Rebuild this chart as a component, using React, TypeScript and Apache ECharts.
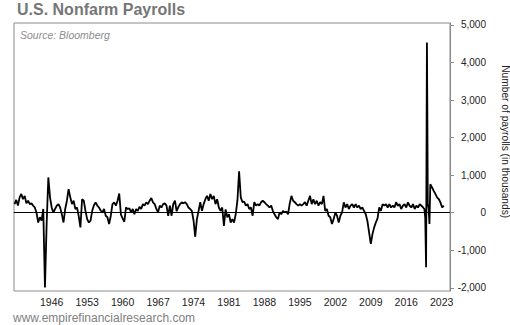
import React, { useEffect, useRef } from "react";
import * as echarts from "echarts";

const start1 = "1938-09";
const changes1938to1958 = [
  230, 340, 190, 410, 500, 360, 450, 250, 320, 230, 250, 190,
  140, 0, -260, -120, -210, 100, -1990, -300, 940, 410, 140, 0,
  100, 190, 230, 140, -40, -260, 100, 320, 630, 410, 230, 320,
  100, 140, -90, -390, 360, 320, 50, -170, -260, -210, 50, 200,
  275, 190, 140, 60, 10, 100, -80, -120, -300, -80, 230, 275,
];
const start2 = "1958-09";
const changes1958to1978 = [
  190, 320, 510, -50, -150, -240, 140, 100, 120, 10, 100, -40,
  100, 50, 160, 100, 230, 190, 275, 230, 320, 390, 275, 230,
  100, 10, 190, 140, 230, 250, 190, -80, 190, -80, 230, 320,
  40, 150, 230, 275, 250, 280, 230, 140, 100, 50, -200, -640,
  -170, 50, 280, 50, 230, 360, 450, 320, 500, 360, 450, 230,
];
const start3 = "1978-09";
const changes1978to1998 = [
  360, 140, 50, 140, -350, 90, -120, -40, -260, -170, -260, -40,
  320, 1100, 410, 280, 300, 190, 230, 100, 140, -80, 280, 190,
  230, 190, 280, 320, 280, 230, 190, 140, 190, 50, -40, -120,
  -170, 10, -40, 50, 10, 30, -40, 250, 450, 320, 280, 230,
  190, 230, 190, 230, 280, 190, 320, 450, 230, 360, 230, 320,
];
const start4 = "1998-09";
const changes1998to2019 = [
  190, 280, 230, 450, 50, 100, -80, -120, -300, -170, 10, -80,
  -260, -80, 10, 275, 140, 230, 100, 190, 230, 140, 230, 140,
  190, 100, 140, 50, -40, -220, -520, -830, -570, -390, -260, -150,
  140, 50, 230, 190, 230, 140, 230, 140, 190, 140, 280, 186,
  230, 100, 186, 230, 140, 275, 186, 140, 230, 100, 186, 140,
  230, 186, 140,
];
const recentMonths = [
  "2019-08", "2019-10", "2019-12", "2020-02", "2020-03", "2020-04", "2020-06", "2020-08",
  "2020-10", "2021-02", "2021-06", "2021-10", "2022-02", "2022-06", "2022-10", "2023-02", "2023-06",
];
const recentChanges = [100, -130, -1450, 4530, 2700, 250, 100, -300, 760, 675, 585, 500, 410, 365, 275, 140, 186];

const yearLabels = [1946, 1953, 1960, 1967, 1974, 1981, 1988, 1995, 2002, 2009, 2016, 2023];
const valueTicks = [-2000, -1000, 0, 1000, 2000, 3000, 4000, 5000];

const FONT = '"Liberation Sans", Arial, sans-serif';

function monthToYear(m: string): number {
  const [y, mo] = m.split("-").map(Number);
  return y + (mo - 1) / 12;
}
function addMonths(m: string, n: number): string {
  const [y, mo] = m.split("-").map(Number);
  const t = y * 12 + (mo - 1) + n;
  const ny = Math.floor(t / 12);
  const nm = (t % 12) + 1;
  return `${ny}-${String(nm).padStart(2, "0")}`;
}

function buildData(): [number, number][] {
  const out: [number, number][] = [];
  const eras: [string, number[]][] = [
    [start1, changes1938to1958],
    [start2, changes1958to1978],
    [start3, changes1978to1998],
    [start4, changes1998to2019],
  ];
  eras.forEach(([s, vals]) => {
    vals.forEach((v, i) => out.push([monthToYear(addMonths(s, i * 4)), v]));
  });
  recentMonths.forEach((m, i) => out.push([monthToYear(m), recentChanges[i]]));
  return out;
}

export default function App() {
  const ref = useRef<HTMLDivElement>(null);
  useEffect(() => {
    document.body.style.margin = "0";
    if (!ref.current) return;
    const chart = echarts.init(ref.current, undefined, { renderer: "svg" });
    chart.setOption({
      animation: false,
      backgroundColor: "#ffffff",
      grid: {
        left: 14,
        top: 23,
        width: 436,
        height: 268,
        show: true,
        borderColor: "#8a8a8a",
        borderWidth: 1,
      },
      xAxis: {
        type: "value",
        min: 1938.556,
        max: 2024.64,
        axisLine: { show: true, lineStyle: { color: "#8a8a8a", width: 1 } },
        axisTick: { show: false },
        splitLine: { show: false },
        axisLabel: {
          customValues: yearLabels,
          formatter: (v: number) => String(Math.round(v)),
          fontFamily: FONT,
          fontSize: 10.5,
          color: "#222222",
          margin: 5,
        },
      },
      yAxis: {
        type: "value",
        position: "right",
        min: -2083,
        max: 5050,
        axisLine: { show: true, lineStyle: { color: "#8a8a8a", width: 1 } },
        axisTick: { show: true, length: 4, customValues: valueTicks, lineStyle: { color: "#8a8a8a" } },
        splitLine: { show: false },
        axisLabel: {
          customValues: valueTicks,
          formatter: (v: number) => Math.round(v).toLocaleString("en-US"),
          fontFamily: FONT,
          fontSize: 10,
          color: "#222222",
          margin: 36,
          align: "right",
        },
      },
      graphic: [
        {
          type: "text",
          x: 17,
          y: 9.4,
          style: {
            text: "U.S. Nonfarm Payrolls",
            fontFamily: FONT,
            fontSize: 16,
            fontWeight: "bold",
            fill: "#767676",
            align: "left",
            verticalAlign: "middle",
          },
        },
        {
          type: "text",
          x: 20,
          y: 35,
          style: {
            text: "Source: Bloomberg",
            fontFamily: FONT,
            fontSize: 10.5,
            fontStyle: "italic",
            fill: "#8c8c8c",
            align: "left",
            verticalAlign: "middle",
          },
        },
        {
          type: "text",
          x: 13,
          y: 317.5,
          style: {
            text: "www.empirefinancialresearch.com",
            fontFamily: FONT,
            fontSize: 12,
            fill: "#808080",
            align: "left",
            verticalAlign: "middle",
          },
        },
        {
          type: "text",
          x: 505.5,
          y: 141.7,
          rotation: -Math.PI / 2,
          style: {
            text: "Number of payrolls (in thousands)",
            fontFamily: FONT,
            fontSize: 10.2,
            fill: "#222222",
            align: "center",
            verticalAlign: "middle",
          },
        },
      ],
      series: [
        {
          type: "line",
          data: buildData(),
          showSymbol: false,
          symbol: "none",
          lineStyle: { color: "#000000", width: 1.8 },
          markLine: {
            silent: true,
            symbol: "none",
            label: { show: false },
            lineStyle: { color: "#000000", width: 1.2, type: "solid" },
            data: [{ yAxis: 0 }],
          },
        },
      ],
    });
    return () => chart.dispose();
  }, []);
  return (
    <div
      ref={ref}
      style={{ position: "absolute", left: 0, top: 0, width: 510, height: 325, background: "#fff" }}
    />
  );
}
